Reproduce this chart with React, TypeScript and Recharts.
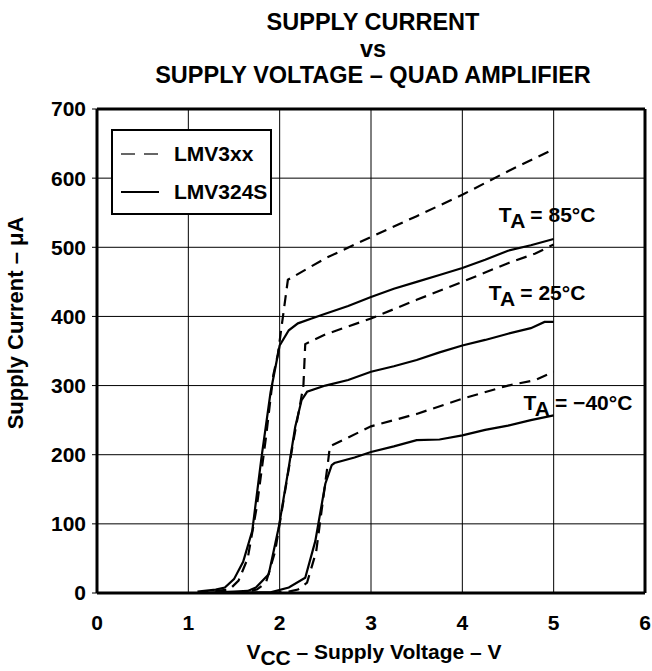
import React from "react";
import { LineChart, Line, XAxis, YAxis, CartesianGrid, ReferenceLine, ReferenceDot } from "recharts";

const FONT = "'Liberation Sans', Arial, Helvetica, sans-serif";

// [supply voltage V, supply current uA]
const lmv3xx85 = [
  [1.1, 0], [1.3, 3], [1.45, 5], [1.55, 18], [1.65, 50], [1.75, 125], [1.85, 225],
  [1.93, 315], [1.98, 345], [2.09, 453], [2.5, 484], [3.0, 515], [3.5, 545],
  [4.0, 576], [4.5, 610], [5.0, 642],
];
const lmv324s85 = [
  [1.1, 2], [1.3, 5], [1.4, 8], [1.5, 20], [1.6, 45], [1.7, 90], [1.8, 195], [1.9, 290],
  [2.0, 358], [2.1, 380], [2.2, 390], [2.35, 397], [2.5, 404], [2.75, 415], [3.0, 428],
  [3.25, 440], [3.5, 450], [3.75, 460], [4.0, 470], [4.25, 482], [4.5, 495], [4.75, 503],
  [5.0, 512],
];
const lmv3xx25 = [
  [1.5, 0], [1.65, 2], [1.75, 5], [1.85, 15], [1.95, 60], [2.05, 140], [2.15, 220],
  [2.22, 270], [2.26, 300], [2.28, 360], [2.5, 374], [3.0, 397], [3.5, 424], [4.0, 450],
  [4.5, 477], [4.8, 491], [5.0, 504],
];
const lmv324s25 = [
  [1.1, 0], [1.5, 2], [1.65, 3], [1.74, 8], [1.88, 27], [1.99, 95], [2.1, 182], [2.17, 240],
  [2.24, 279], [2.3, 291], [2.5, 300], [2.75, 308], [3.0, 320], [3.25, 328], [3.5, 337],
  [3.75, 348], [4.0, 358], [4.25, 366], [4.5, 375], [4.75, 383], [4.9, 392], [5.0, 392],
];
const lmv3xxM40 = [
  [1.9, 0], [2.1, 2], [2.2, 5], [2.3, 15], [2.4, 60], [2.47, 130], [2.53, 190], [2.55, 212],
  [3.0, 241], [3.5, 259], [4.0, 281], [4.5, 300], [4.8, 308], [5.0, 320],
];
const lmv324sM40 = [
  [1.1, 0], [1.9, 1], [2.1, 8], [2.28, 22], [2.39, 75], [2.5, 158], [2.57, 185], [2.6, 188],
  [2.82, 196], [3.0, 204], [3.25, 212], [3.5, 221], [3.75, 222], [4.0, 228], [4.25, 236],
  [4.5, 242], [4.75, 250], [5.0, 257],
];

const xTicks = [0, 1, 2, 3, 4, 5, 6];
const yTicks = [0, 100, 200, 300, 400, 500, 600, 700];

// temperature label anchors [V, uA, text]
const tempLabels: [number, number, string][] = [
  [4.4, 536, " = 85°C"],
  [4.29, 424, " = 25°C"],
  [4.67, 265, " = \u221240°C"],
];

const toData = (pts: number[][]) => pts.map(([v, i]) => ({ v, i }));

const dashed = [lmv3xx85, lmv3xx25, lmv3xxM40];
const solid = [lmv324s85, lmv324s25, lmv324sM40];

const TempLabel = (text: string) => (props: any) => (
  <text x={props.cx} y={props.cy} fontFamily={FONT} fontWeight="bold" fontSize={21} fill="#000">
    T
    <tspan dy={6}>A</tspan>
    <tspan dy={-6}>{text}</tspan>
  </text>
);

const tickStyle = { fill: "#000", fontSize: 21, fontWeight: "bold", fontFamily: FONT };

export default function App() {
  return (
    <div style={{ position: "relative", width: 652, height: 671, fontFamily: FONT, background: "#fff" }}>
      <style>{`body{margin:0}`}</style>
      <div style={{ position: "absolute", left: 97, width: 552, top: 9, textAlign: "center", fontWeight: "bold", fontSize: 23.5, lineHeight: "26.5px" }}>
        SUPPLY CURRENT<br />vs<br />SUPPLY VOLTAGE – QUAD AMPLIFIER
      </div>
      <LineChart width={652} height={671} margin={{ top: 109, right: 7, left: 0, bottom: 0 }}>
        <CartesianGrid stroke="#000" strokeWidth={1} horizontalValues={yTicks} verticalValues={xTicks} />
        <XAxis
          dataKey="v"
          type="number"
          domain={[0, 6]}
          ticks={xTicks}
          height={78}
          axisLine={{ stroke: "#000", strokeWidth: 3 }}
          tickLine={false}
          tick={tickStyle}
          tickMargin={16}
          allowDuplicatedCategory={false}
        />
        <YAxis
          type="number"
          domain={[0, 700]}
          ticks={yTicks}
          width={97}
          axisLine={{ stroke: "#000", strokeWidth: 3 }}
          tickLine={{ stroke: "#000" }}
          tickSize={5}
          tick={tickStyle}
          tickMargin={6}
        />
        <ReferenceLine y={700} stroke="#000" strokeWidth={3} />
        <ReferenceLine x={6} stroke="#000" strokeWidth={3} />
        {dashed.map((s, k) => (
          <Line key={`d${k}`} data={toData(s)} dataKey="i" type="linear" stroke="#000" strokeWidth={2.2}
            strokeDasharray="11 7" dot={false} isAnimationActive={false} />
        ))}
        {solid.map((s, k) => (
          <Line key={`s${k}`} data={toData(s)} dataKey="i" type="linear" stroke="#000" strokeWidth={2.2}
            dot={false} isAnimationActive={false} />
        ))}
        {tempLabels.map(([v, i, t]) => (
          <ReferenceDot key={t} x={v} y={i} r={0} shape={TempLabel(t)} />
        ))}
      </LineChart>
      <div style={{ position: "absolute", left: 111, top: 129, width: 157, height: 82, border: "2px solid #000", background: "#fff", fontWeight: "bold", fontSize: 21 }}>
        <div style={{ position: "absolute", top: 11, left: 8, display: "flex", alignItems: "center" }}>
          <svg width={38} height={6}><line x1={0} y1={3} x2={38} y2={3} stroke="#666" strokeWidth={2.2} strokeDasharray="14 9" /></svg>
          <span style={{ marginLeft: 15 }}>LMV3xx</span>
        </div>
        <div style={{ position: "absolute", top: 49, left: 8, display: "flex", alignItems: "center" }}>
          <svg width={38} height={6}><line x1={0} y1={3} x2={38} y2={3} stroke="#000" strokeWidth={2.2} /></svg>
          <span style={{ marginLeft: 15 }}>LMV324S</span>
        </div>
      </div>
      <div style={{ position: "absolute", left: 16, top: 323, transform: "translate(-50%, -50%) rotate(-90deg)", whiteSpace: "nowrap", fontWeight: "bold", fontSize: 22 }}>
        Supply Current – μA
      </div>
      <div style={{ position: "absolute", left: 374, top: 655, transform: "translate(-50%, -50%)", whiteSpace: "nowrap", fontWeight: "bold", fontSize: 21 }}>
        V<sub style={{ fontSize: 21, verticalAlign: "-6px" }}>CC</sub> – Supply Voltage – V
      </div>
    </div>
  );
}
